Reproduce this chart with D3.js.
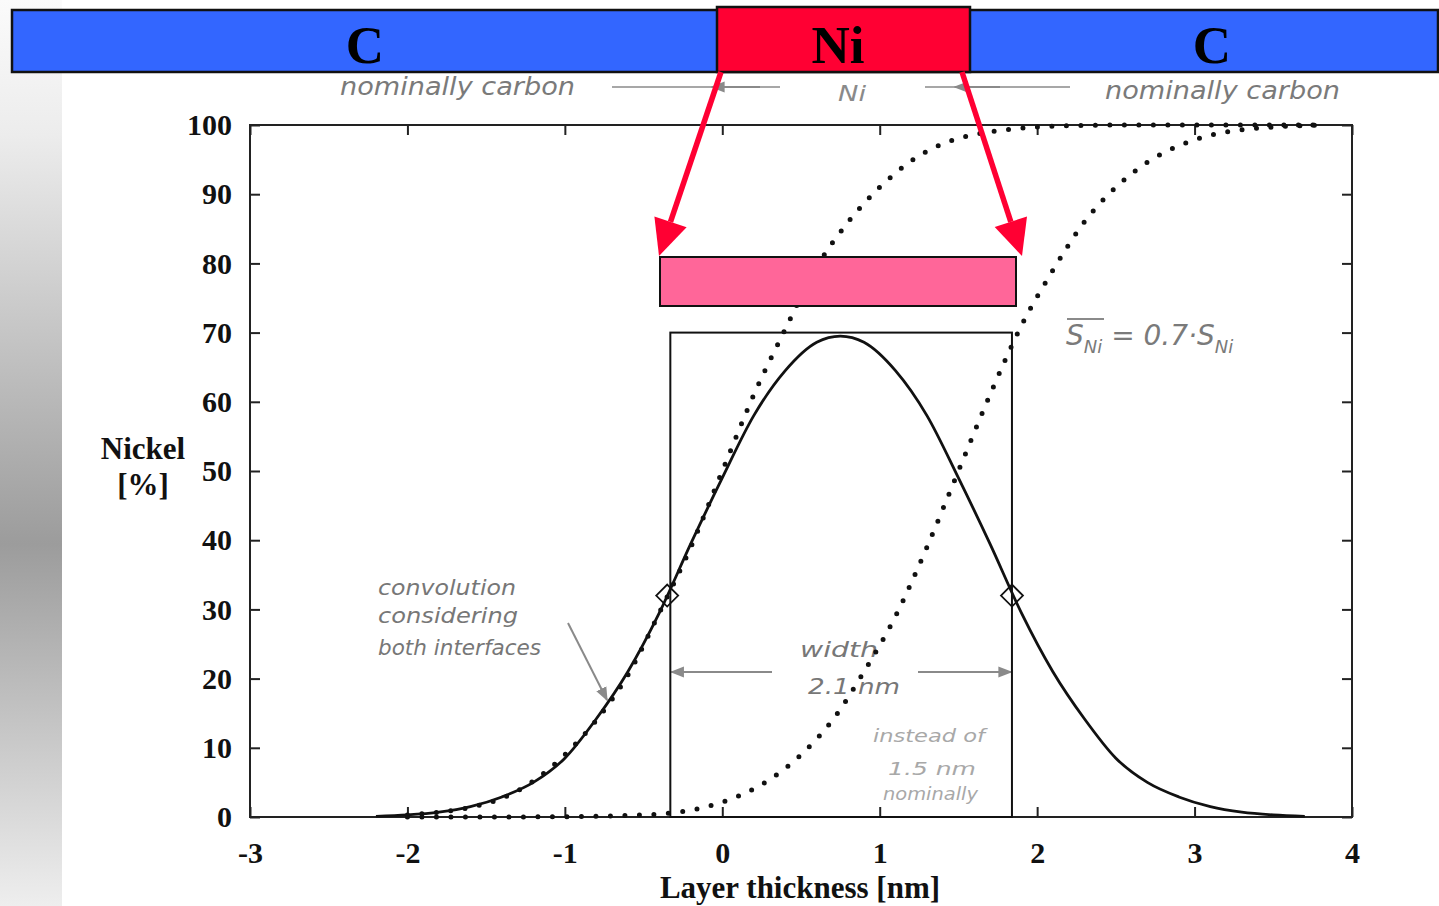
<!DOCTYPE html>
<html><head><meta charset="utf-8">
<script src="https://cdn.jsdelivr.net/npm/d3@7"></script>
<style>body{margin:0;background:#fff;} svg{display:block}</style>
</head><body>
<svg id="c" width="1439" height="906"></svg>
<script>
// ---------- data ----------
const xTicks = [-3, -2, -1, 0, 1, 2, 3, 4];
const yTicks = [0, 10, 20, 30, 40, 50, 60, 70, 80, 90, 100];

// solid: convolution profile (Nickel %)
const solidX = [-2.2,-2.0,-1.8,-1.6,-1.4,-1.2,-1.0,-0.8,-0.6,-0.4,-0.2,0.0,0.2,0.4,0.6,0.75,0.9,1.1,1.3,1.5,1.7,1.9,2.1,2.3,2.5,2.7,2.9,3.1,3.3,3.5,3.7];
const solidY = [0.1,0.3,0.7,1.5,2.9,5.0,8.5,14.2,21,29.5,39.5,49,58,64.5,68.6,69.5,68.6,64.5,58,49,39.5,29.5,21,14.2,8.5,5.0,2.9,1.5,0.7,0.3,0.1];

// dotted: left interface step
const leftDotX = [-2.0,-1.8,-1.6,-1.4,-1.2,-1.0,-0.8,-0.6,-0.4,-0.2,0.0,0.2,0.4,0.6,0.8,1.0,1.2,1.4,1.6,1.8,2.0,2.5,3.0,3.5,3.8];
const leftDotY = [0.3,0.7,1.4,2.7,5.2,9,14,20.5,29.5,39,50,61,70.5,79.5,86,91,94.8,97.3,98.6,99.3,99.7,100,100,100,100];

// dotted: right interface step
const rightDotX = [-2.0,-1.5,-1.0,-0.5,-0.1,0.1,0.3,0.5,0.7,0.9,1.1,1.3,1.5,1.7,1.9,2.1,2.3,2.5,2.7,2.9,3.1,3.3,3.5,3.8];
const rightDotY = [0,0,0.05,0.3,1.5,3,5.4,9,14,21,29,39,50,61,71,79,86,91,94.6,97,98.5,99.3,99.7,100];

// nominal box and width markers
const boxX = [-0.33, 1.84];
const boxTop = 70;
const markerX = [-0.35, 1.84];
const markerY = [32, 32];

const layerLabels = ["C", "Ni", "C"];

// ---------- setup ----------
const svg = d3.select("#c");
const W = 1439, H = 906;
const x = d3.scaleLinear().domain([-3, 4]).range([250, 1352]);
const y = d3.scaleLinear().domain([0, 100]).range([817, 125]);

const defs = svg.append("defs");
const grad = defs.append("linearGradient").attr("id","bandG").attr("x1",0).attr("y1",0).attr("x2",0).attr("y2",1);
grad.append("stop").attr("offset","0").attr("stop-color","#fbfbfb");
grad.append("stop").attr("offset","0.15").attr("stop-color","#ececec");
grad.append("stop").attr("offset","0.6").attr("stop-color","#9c9c9c");
grad.append("stop").attr("offset","1").attr("stop-color","#eeeeee");

function arrowMarker(id, color, size){
  defs.append("marker").attr("id", id).attr("viewBox","0 0 10 10")
    .attr("refX", 9).attr("refY", 5).attr("markerWidth", size).attr("markerHeight", size)
    .attr("markerUnits","userSpaceOnUse").attr("orient","auto")
    .append("path").attr("d","M0,1 L10,5 L0,9 Z").attr("fill", color);
}
arrowMarker("ag", "#8a8a8a", 14);

svg.append("rect").attr("width", W).attr("height", H).attr("fill", "#ffffff");
svg.append("rect").attr("x",0).attr("y",0).attr("width",62).attr("height",H).attr("fill","url(#bandG)");

// ---------- axes ----------
const serif = "'Liberation Serif', 'Times New Roman', serif";
const gB = svg.append("g").attr("transform", `translate(0,${y(0)})`)
  .call(d3.axisBottom(x).tickValues(xTicks).tickSize(-10).tickPadding(26).tickFormat(d => String(d)));
const gL = svg.append("g").attr("transform", `translate(${x(-3)},0)`)
  .call(d3.axisLeft(y).tickValues(yTicks).tickSize(-10).tickPadding(18).tickFormat(d => String(d)));
const gT = svg.append("g").attr("transform", `translate(0,${y(100)})`)
  .call(d3.axisTop(x).tickValues(xTicks).tickSize(-10).tickFormat(""));
const gR = svg.append("g").attr("transform", `translate(${x(4)},0)`)
  .call(d3.axisRight(y).tickValues(yTicks).tickSize(-10).tickFormat(""));
[gB,gL,gT,gR].forEach(g=>{
  g.select(".domain").remove();
  g.selectAll(".tick line").attr("stroke","#222").attr("stroke-width",2);
  g.selectAll(".tick text").attr("fill","#111").attr("font-family",serif)
    .attr("font-weight","bold").attr("font-size",30);
});
gB.selectAll(".tick text").attr("dy","0.66em");
svg.append("rect").attr("x", x(-3)).attr("y", y(100)).attr("width", x(4)-x(-3)).attr("height", y(0)-y(100))
  .attr("fill","none").attr("stroke","#222").attr("stroke-width",2);

svg.append("text").attr("x", 800).attr("y", 898).attr("text-anchor","middle")
  .attr("font-family",serif).attr("font-weight","bold").attr("font-size",31).attr("fill","#111")
  .text("Layer thickness [nm]");
svg.append("text").attr("x", 143).attr("y", 459).attr("text-anchor","middle")
  .attr("font-family",serif).attr("font-weight","bold").attr("font-size",31).attr("fill","#111").text("Nickel");
svg.append("text").attr("x", 143).attr("y", 495).attr("text-anchor","middle")
  .attr("font-family",serif).attr("font-weight","bold").attr("font-size",31).attr("fill","#111").text("[%]");

// ---------- handwritten annotations ----------
const hand = "'DejaVu Sans', sans-serif";
function hw(t, x0, yb, w, size, col){
  svg.append("text").attr("x", x0).attr("y", yb).attr("font-family", hand).attr("font-style","italic")
    .attr("font-size", size).attr("fill", col).attr("textLength", w).attr("lengthAdjust","spacingAndGlyphs").text(t);
}
hw("nominally carbon", 340, 95, 235, 24, "#7a7a7a");
hw("nominally carbon", 1105, 99, 235, 24, "#7a7a7a");
hw("Ni", 838, 101, 28, 22, "#8a8a8a");
svg.append("line").attr("x1",612).attr("y1",87).attr("x2",780).attr("y2",87).attr("stroke","#8a8a8a").attr("stroke-width",1.5);
svg.append("line").attr("x1",760).attr("y1",87).attr("x2",712).attr("y2",87).attr("stroke","#8a8a8a").attr("stroke-width",2).attr("marker-end","url(#ag)");
svg.append("line").attr("x1",925).attr("y1",87).attr("x2",1070).attr("y2",87).attr("stroke","#8a8a8a").attr("stroke-width",1.5);
svg.append("line").attr("x1",1000).attr("y1",87).attr("x2",955).attr("y2",87).attr("stroke","#8a8a8a").attr("stroke-width",2).attr("marker-end","url(#ag)");

hw("convolution", 378, 595, 138, 22, "#777");
hw("considering", 378, 623, 140, 22, "#777");
hw("both interfaces", 378, 655, 163, 22, "#777");
svg.append("line").attr("x1",568).attr("y1",623).attr("x2",607).attr("y2",700)
  .attr("stroke","#8a8a8a").attr("stroke-width",2).attr("marker-end","url(#ag)");

hw("width", 800, 657, 78, 22, "#777");
hw("2.1 nm", 808, 694, 92, 22, "#777");
svg.append("line").attr("x1",772).attr("y1",672).attr("x2",x(boxX[0])+1).attr("y2",672)
  .attr("stroke","#8a8a8a").attr("stroke-width",2).attr("marker-end","url(#ag)");
svg.append("line").attr("x1",918).attr("y1",672).attr("x2",x(boxX[1])-1).attr("y2",672)
  .attr("stroke","#8a8a8a").attr("stroke-width",2).attr("marker-end","url(#ag)");
hw("instead of", 873, 742, 112, 18, "#a8a8a8");
hw("1.5 nm", 888, 775, 88, 18, "#a8a8a8");
hw("nominally", 883, 800, 95, 18, "#a8a8a8");

// formula
const f = svg.append("text").attr("x",1066).attr("y",345).attr("font-family",hand).attr("font-style","italic")
  .attr("font-size",28).attr("fill","#7a7a7a");
f.append("tspan").text("S");
f.append("tspan").attr("font-size",18).attr("dy",8).text("Ni");
f.append("tspan").attr("dy",-8).text(" = 0.7·S");
f.append("tspan").attr("font-size",18).attr("dy",8).text("Ni");
svg.append("line").attr("x1",1067).attr("y1",319).attr("x2",1104).attr("y2",319).attr("stroke","#8a8a8a").attr("stroke-width",2);

// ---------- marks ----------
const solid = solidX.map((v,i)=>[v, solidY[i]]);
const ld = leftDotX.map((v,i)=>[v, leftDotY[i]]);
const rd = rightDotX.map((v,i)=>[v, rightDotY[i]]);
const line = d3.line().x(d=>x(d[0])).y(d=>y(d[1])).curve(d3.curveMonotoneX);

svg.append("rect").attr("x", x(boxX[0])).attr("y", y(boxTop)).attr("width", x(boxX[1])-x(boxX[0]))
  .attr("height", y(0)-y(boxTop)).attr("fill","none").attr("stroke","#111").attr("stroke-width",2);

[ld, rd].forEach(dat=>{
  svg.append("path").attr("d", line(dat)).attr("fill","none").attr("stroke","#111")
    .attr("stroke-width",5).attr("stroke-linecap","round").attr("stroke-dasharray","0 14.5");
});
svg.append("path").attr("d", line(solid)).attr("fill","none").attr("stroke","#111").attr("stroke-width",2.8);

markerX.forEach((mx,i)=>{
  const cx = x(mx), cy = y(markerY[i]), r = 11;
  svg.append("path").attr("d", `M${cx-r},${cy} L${cx},${cy-r} L${cx+r},${cy} L${cx},${cy+r} Z`)
    .attr("fill","none").attr("stroke","#111").attr("stroke-width",1.8);
});

// ---------- header layers ----------
svg.append("rect").attr("x",12).attr("y",10).attr("width",1426).attr("height",62)
  .attr("fill","#3366ff").attr("stroke","#111").attr("stroke-width",2.5);
svg.append("rect").attr("x",717).attr("y",7).attr("width",253).attr("height",65)
  .attr("fill","#ff0033").attr("stroke","#111").attr("stroke-width",2.5);
const hdrX = [365, 838, 1212];
layerLabels.forEach((t,i)=>{
  svg.append("text").attr("x",hdrX[i]).attr("y",63).attr("text-anchor","middle")
    .attr("font-family",serif).attr("font-weight","bold").attr("font-size",53).attr("fill","#000").text(t);
});

// pink target bar and red arrows
svg.append("rect").attr("x",660).attr("y",257).attr("width",356).attr("height",49)
  .attr("fill","#ff6699").attr("stroke","#111").attr("stroke-width",2);
function redArrow(x1,y1,x2,y2){
  const ang = Math.atan2(y2-y1, x2-x1), L = 36, Wd = 17;
  const bx = x2 - L*Math.cos(ang), by = y2 - L*Math.sin(ang);
  svg.append("line").attr("x1",x1).attr("y1",y1).attr("x2",bx).attr("y2",by)
    .attr("stroke","#ff0033").attr("stroke-width",5.5);
  const px = -Math.sin(ang)*Wd, py = Math.cos(ang)*Wd;
  svg.append("path").attr("d",`M${x2},${y2} L${bx+px},${by+py} L${bx-px},${by-py} Z`).attr("fill","#ff0033");
}
redArrow(721, 72, 659, 256);
redArrow(962, 72, 1022, 256);
</script>
</body></html>
